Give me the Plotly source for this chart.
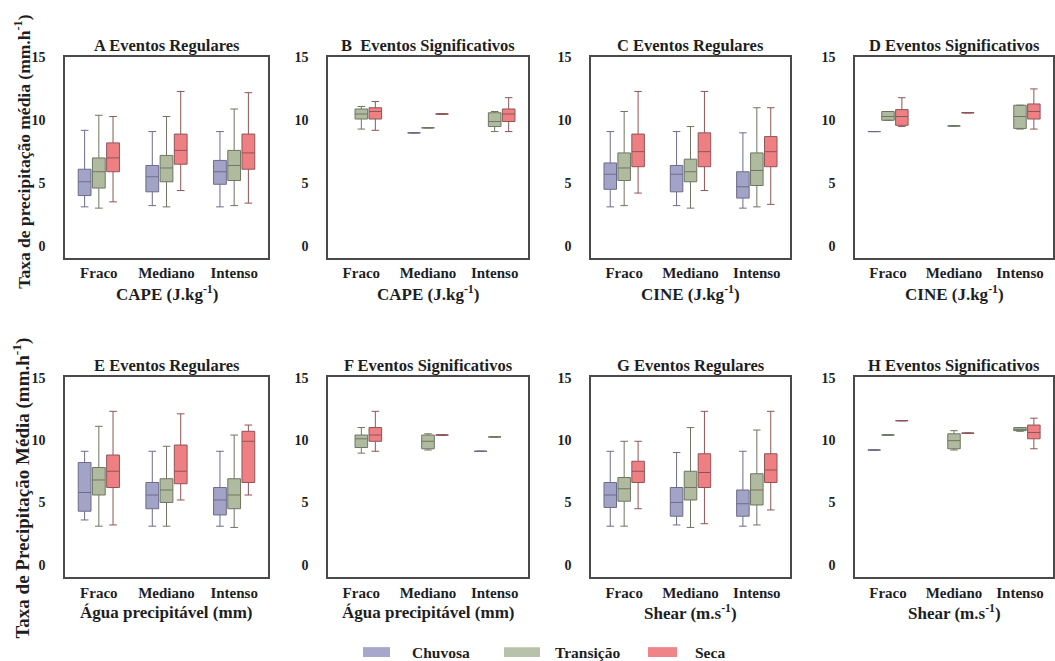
import plotly.graph_objects as go

W, H = 1055, 661

categories = ["Fraco", "Mediano", "Intenso"]
series_names = ["Chuvosa", "Transição", "Seca"]

# five-number summaries per category: (lower whisker, q1, median, q3, upper whisker)
A_chuvosa = [(3.1, 4.0, 5.1, 6.1, 9.2), (3.2, 4.3, 5.5, 6.4, 9.1), (3.1, 4.9, 5.9, 6.8, 9.1)]
A_transicao = [(3.0, 4.6, 5.9, 7.0, 10.4), (3.1, 5.1, 6.2, 7.2, 10.3), (3.2, 5.2, 6.4, 7.6, 10.9)]
A_seca = [(3.5, 5.9, 7.0, 8.2, 10.3), (4.4, 6.5, 7.6, 8.9, 12.3), (3.4, 6.1, 7.4, 8.9, 12.2)]

B_chuvosa = [None, (9.0, 9.0, 9.0, 9.0, 9.0), None]
B_transicao = [(9.3, 10.1, 10.5, 10.9, 11.1), (9.4, 9.4, 9.4, 9.4, 9.4), (9.1, 9.5, 9.9, 10.6, 10.7)]
B_seca = [(9.2, 10.1, 10.7, 11.0, 11.5), (10.5, 10.5, 10.5, 10.5, 10.5), (9.1, 9.9, 10.5, 10.9, 11.8)]

C_chuvosa = [(3.1, 4.5, 5.7, 6.6, 9.1), (3.2, 4.3, 5.7, 6.4, 9.1), (3.0, 3.8, 4.7, 5.9, 9.0)]
C_transicao = [(3.2, 5.2, 6.2, 7.4, 10.7), (3.0, 5.1, 5.9, 6.9, 9.5), (3.1, 4.8, 6.0, 7.4, 11.0)]
C_seca = [(4.2, 6.3, 7.5, 8.9, 12.3), (4.4, 6.3, 7.5, 9.0, 12.3), (3.3, 6.3, 7.5, 8.7, 11.0)]

D_chuvosa = [(9.1, 9.1, 9.1, 9.1, 9.1), None, None]
D_transicao = [(10.0, 10.0, 10.3, 10.7, 10.7), (9.55, 9.55, 9.55, 9.55, 9.55), (9.3, 9.35, 10.3, 11.2, 11.2)]
D_seca = [(9.5, 9.6, 10.3, 10.85, 11.8), (10.6, 10.6, 10.6, 10.6, 10.6), (9.3, 10.1, 10.7, 11.3, 12.5)]

E_chuvosa = [(3.6, 4.3, 5.8, 8.2, 9.1), (3.1, 4.5, 5.6, 6.6, 9.1), (3.1, 4.0, 5.2, 6.2, 9.1)]
E_transicao = [(3.1, 5.6, 6.8, 7.8, 11.1), (3.1, 5.0, 6.0, 6.9, 9.5), (3.0, 4.5, 5.6, 6.9, 10.4)]
E_seca = [(3.2, 6.2, 7.5, 8.8, 12.3), (5.2, 6.5, 7.5, 9.6, 12.1), (5.6, 6.6, 9.9, 10.7, 11.2)]

F_chuvosa = [None, None, (9.1, 9.1, 9.1, 9.1, 9.1)]
F_transicao = [(8.95, 9.4, 10.1, 10.4, 11.0), (9.2, 9.3, 9.9, 10.4, 10.5), (10.25, 10.25, 10.25, 10.25, 10.25)]
F_seca = [(9.1, 9.9, 10.4, 11.0, 12.3), (10.4, 10.4, 10.4, 10.4, 10.4), None]

G_chuvosa = [(3.1, 4.6, 5.6, 6.6, 9.1), (3.2, 3.9, 5.0, 6.2, 9.0), (3.1, 3.9, 4.9, 6.0, 9.1)]
G_transicao = [(3.1, 5.1, 6.1, 7.0, 9.9), (3.0, 5.2, 6.2, 7.5, 11.0), (3.2, 4.8, 6.0, 7.3, 10.8)]
G_seca = [(4.5, 6.6, 7.5, 8.3, 9.9), (3.3, 6.2, 7.4, 8.9, 12.3), (4.4, 6.6, 7.6, 8.9, 12.3)]

H_chuvosa = [(9.2, 9.2, 9.2, 9.2, 9.2), None, None]
H_transicao = [(10.4, 10.4, 10.4, 10.4, 10.4), (9.2, 9.3, 9.95, 10.5, 10.75), (10.7, 10.75, 10.85, 11.0, 11.0)]
H_seca = [(11.55, 11.55, 11.55, 11.55, 11.55), (10.55, 10.55, 10.55, 10.55, 10.55), (9.3, 10.1, 10.6, 11.2, 11.75)]

y_ticks = [0, 5, 10, 15]

panel_titles = [
    "A Eventos Regulares", "B  Eventos Significativos",
    "C Eventos Regulares", "D Eventos Significativos",
    "E Eventos Regulares", "F Eventos Significativos",
    "G Eventos Regulares", "H Eventos Significativos",
]
x_titles = [
    "CAPE (J.kg<sup>-1</sup>)", "CAPE (J.kg<sup>-1</sup>)",
    "CINE (J.kg<sup>-1</sup>)", "CINE (J.kg<sup>-1</sup>)",
    "Água precipitável (mm)", "Água precipitável (mm)",
    "Shear (m.s<sup>-1</sup>)", "Shear (m.s<sup>-1</sup>)",
]
y_titles = [
    "Taxa de precipitação média (mm.h<sup>-1</sup>)",
    "Taxa de Precipitação Média (mm.h<sup>-1</sup>)",
]

panels = [
    (A_chuvosa, A_transicao, A_seca), (B_chuvosa, B_transicao, B_seca),
    (C_chuvosa, C_transicao, C_seca), (D_chuvosa, D_transicao, D_seca),
    (E_chuvosa, E_transicao, E_seca), (F_chuvosa, F_transicao, F_seca),
    (G_chuvosa, G_transicao, G_seca), (H_chuvosa, H_transicao, H_seca),
]

fill_colors = ["#a2a3c6", "#b0ba9f", "#ee8083"]
line_colors = ["#6c6c8a", "#6e7662", "#8e5558"]
legend_colors = ["#a6a7cb", "#b8c1a9", "#ef8588"]

FONT = "Liberation Serif, Times New Roman, serif"
TXT = "#1e1e1e"

# panel frames in pixels: (left, right) columns and (top, bottom) rows
col_px = [(65, 268), (328, 528), (591, 790), (855, 1053)]
row_px = [(51, 254), (374, 576)]


def px_x(p):
    return p / W


def px_y(p):
    return 1 - p / H


fig = go.Figure()
layout = dict(
    width=W, height=H,
    margin=dict(l=0, r=0, t=0, b=0),
    paper_bgcolor="white", plot_bgcolor="white",
    boxmode="group", boxgap=0.37, boxgroupgap=0.1,
    showlegend=False,
    font=dict(family=FONT, color=TXT),
)
annotations = []
shapes = []

for k, (panel, ptitle, xtitle) in enumerate(zip(panels, panel_titles, x_titles)):
    r, c = divmod(k, 4)
    n = k + 1
    xa = "x" if n == 1 else f"x{n}"
    ya = "y" if n == 1 else f"y{n}"
    for s, stats in enumerate(panel):
        xs, lo, q1, md, q3, hi = [], [], [], [], [], []
        for cat, st in zip(categories, stats):
            if st is None:
                continue
            xs.append(cat)
            lo.append(st[0]); q1.append(st[1]); md.append(st[2]); q3.append(st[3]); hi.append(st[4])
        fig.add_trace(go.Box(
            x=xs, q1=q1, median=md, q3=q3, lowerfence=lo, upperfence=hi,
            name=series_names[s], legendgroup=series_names[s],
            fillcolor=fill_colors[s], line=dict(color=line_colors[s], width=1),
            whiskerwidth=0.6, boxpoints=False, offsetgroup=str(s),
            xaxis=xa, yaxis=ya, showlegend=False,
        ))

    (x0, x1), (y0, y1) = col_px[c], row_px[r]
    axis_line = dict(showline=True, mirror=True, linecolor="#4a4a4a", linewidth=1.5,
                     showgrid=False, zeroline=False, ticks="")
    layout["xaxis" if n == 1 else f"xaxis{n}"] = dict(
        domain=[px_x(x0), px_x(x1)], anchor=ya, type="category",
        categoryorder="array", categoryarray=categories, range=[-0.5, 2.5],
        tickfont=dict(family=FONT, size=15, color=TXT, weight="bold"),
        ticklabelstandoff=1, **axis_line,
    )
    layout["yaxis" if n == 1 else f"yaxis{n}"] = dict(
        domain=[px_y(y1), px_y(y0)], anchor=xa, range=[-0.95, 15.08],
        tickvals=y_ticks,
        tickfont=dict(family=FONT, size=14, color=TXT, weight="bold"),
        ticklabelstandoff=15, **axis_line,
    )
    cx = px_x((x0 + x1) / 2)
    annotations.append(dict(
        text=f"<b>{ptitle}</b>", x=cx, y=px_y(y0 - 11), xref="paper", yref="paper",
        xanchor="center", yanchor="middle", showarrow=False,
        font=dict(family=FONT, size=16.5, color=TXT),
    ))
    annotations.append(dict(
        text=f"<b>{xtitle}</b>", x=cx, y=px_y(y1 + 36), xref="paper", yref="paper",
        xanchor="center", yanchor="middle", showarrow=False,
        font=dict(family=FONT, size=17, color=TXT),
    ))

for r, (ytitle, yc) in enumerate(zip(y_titles, [147, 487])):
    annotations.append(dict(
        text=f"<b>{ytitle}</b>", x=px_x(22), y=px_y(yc), xref="paper", yref="paper",
        xanchor="center", yanchor="middle", textangle=-90, showarrow=False,
        font=dict(family=FONT, size=17.5 if r == 0 else 19, color=TXT),
    ))

# legend swatches along the bottom
legend_px = [(363, 390, 410), (504, 540, 553), (648, 677, 693)]
for (sx0, sx1, tx), name, col in zip(legend_px, series_names, legend_colors):
    shapes.append(dict(type="rect", xref="paper", yref="paper",
                       x0=px_x(sx0), x1=px_x(sx1), y0=px_y(657), y1=px_y(647),
                       fillcolor=col, line=dict(width=0)))
    annotations.append(dict(
        text=f"<b>{name}</b>", x=px_x(tx), y=px_y(652), xref="paper", yref="paper",
        xanchor="left", yanchor="middle", showarrow=False,
        font=dict(family=FONT, size=15.5, color=TXT),
    ))

layout["annotations"] = annotations
layout["shapes"] = shapes
fig.update_layout(**layout)

fig.write_html("out.html")
